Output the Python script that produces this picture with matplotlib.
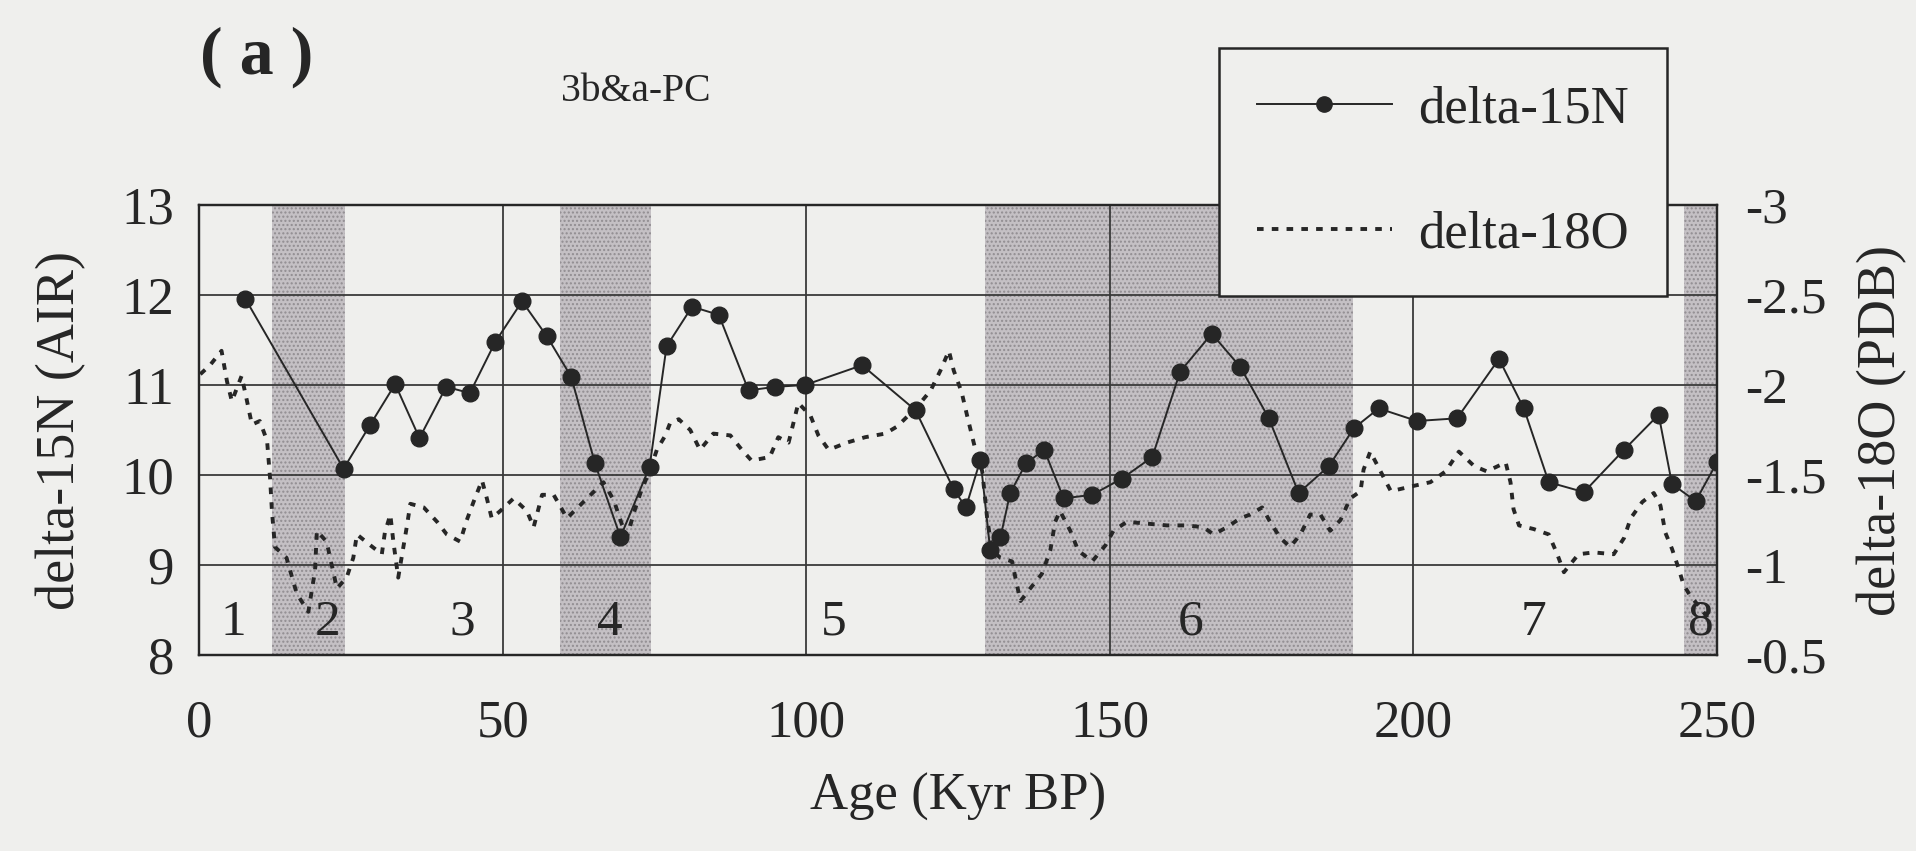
import matplotlib
matplotlib.use("Agg")
import matplotlib.pyplot as plt
from matplotlib.lines import Line2D

plt.rcParams["font.family"] = ["Liberation Serif", "DejaVu Serif"]

# delta-15N (AIR), one value per sample depth
age_n15 = [7.6, 23.8, 28.2, 32.3, 36.3, 40.7, 44.6, 48.8, 53.2, 57.3, 61.3,
           65.2, 69.4, 74.2, 77.0, 81.2, 85.6, 90.5, 94.9, 99.8, 109.2, 118.0,
           124.3, 126.3, 128.7, 130.3, 132.0, 133.6, 136.2, 139.2, 142.4, 147.1,
           152.0, 157.0, 161.6, 166.8, 171.5, 176.2, 181.1, 186.1, 190.2, 194.3,
           200.6, 207.2, 214.1, 218.2, 222.3, 228.1, 234.7, 240.4, 242.6, 246.5,
           250.0]
n15 = [11.96, 10.07, 10.56, 11.01, 10.41, 10.98, 10.91, 11.48, 11.93, 11.54, 11.09,
       10.13, 9.31, 10.09, 11.43, 11.87, 11.78, 10.94, 10.98, 11.00, 11.22, 10.72,
       9.84, 9.64, 10.17, 9.17, 9.31, 9.80, 10.13, 10.28, 9.74, 9.78,
       9.96, 10.20, 11.15, 11.57, 11.20, 10.63, 9.80, 10.10, 10.52, 10.74,
       10.60, 10.63, 11.29, 10.74, 9.92, 9.81, 10.28, 10.67, 9.90, 9.71,
       10.14]

# delta-18O (PDB) benthic record
age_o18 = [0.2, 1.8, 3.7, 4.6, 5.4, 7.0, 7.9, 8.7, 10.0, 11.2, 11.7, 12.0, 12.5,
           14.4, 16.1, 18.0, 19.1, 19.4, 21.0, 22.7, 24.3, 25.4, 26.0, 28.2, 30.1,
           30.6, 31.5, 32.0, 32.8, 34.2, 34.8, 37.0, 39.2, 40.8, 43.0, 44.1, 45.2,
           46.6, 47.4, 48.2, 49.6, 51.8, 54.0, 55.1, 56.5, 58.4, 60.6,
           63.3, 66.6, 68.3, 69.6, 70.5, 71.8, 72.9, 74.3, 75.4, 76.8, 77.6, 79.0,
           80.9, 82.5, 84.7, 87.5, 89.4, 91.0, 94.0, 95.4, 97.1, 97.9, 98.7, 100.7,
           102.0, 103.7, 106.7, 109.7, 113.0, 115.0, 118.3, 120.5, 122.1, 123.5,
           124.3, 125.6, 126.5,
           127.8, 129.0, 129.8, 130.6, 132.0, 133.9, 134.7, 135.3, 136.9, 138.8,
           140.2, 141.0, 141.8, 143.5, 144.8, 147.1, 149.3, 150.6, 152.8, 156.1,
           159.4, 162.7, 165.4, 167.1, 169.3, 171.5, 173.1, 175.1, 176.4, 178.1,
           179.7, 181.4, 183.0, 184.7, 186.3, 188.0, 189.6,
           191.3, 191.8, 192.9, 194.6, 196.3, 200.1, 202.8, 205.3, 207.5, 210.0,
           212.1, 215.2, 216.0, 216.5, 217.4, 219.8, 222.3, 223.7, 224.8, 227.2,
           229.7, 233.0, 234.7, 235.8, 237.7, 239.6, 240.7, 241.5, 242.6, 243.7,
           244.5, 245.6, 247.3, 248.9]
o18 = [-2.06, -2.11, -2.19, -2.02, -1.91, -2.05, -1.91, -1.78, -1.80, -1.69, -1.48, -1.30, -1.10,
       -1.04, -0.84, -0.74, -0.97, -1.19, -1.13, -0.87, -0.93, -1.04, -1.17, -1.11, -1.06,
       -1.18, -1.28, -1.13, -0.93, -1.21, -1.34, -1.32, -1.24, -1.17, -1.13, -1.25, -1.35,
       -1.47, -1.37, -1.26, -1.30, -1.37, -1.30, -1.21, -1.39, -1.39, -1.26,
       -1.35, -1.46, -1.36, -1.23, -1.16, -1.31, -1.42, -1.53, -1.64, -1.72, -1.79, -1.81,
       -1.75, -1.64, -1.73, -1.72, -1.64, -1.58, -1.60, -1.71, -1.68, -1.79, -1.90, -1.83,
       -1.72, -1.64, -1.68, -1.71, -1.73, -1.77, -1.88, -1.97, -2.08, -2.19,
       -2.08, -1.96, -1.83,
       -1.65, -1.52, -1.26, -1.08, -1.04, -1.02, -0.89, -0.80, -0.87, -0.95,
       -1.08, -1.24, -1.30, -1.19, -1.08, -1.02, -1.11, -1.19, -1.24, -1.23,
       -1.22, -1.22, -1.21, -1.17, -1.21, -1.26, -1.28, -1.32, -1.24, -1.15,
       -1.10, -1.17, -1.28, -1.28, -1.19, -1.25, -1.37,
       -1.41, -1.53, -1.63, -1.52, -1.41, -1.44, -1.46, -1.52, -1.63, -1.55,
       -1.52, -1.57, -1.46, -1.31, -1.22, -1.20, -1.17, -1.06, -0.96, -1.06,
       -1.07, -1.06, -1.15, -1.26, -1.35, -1.40, -1.33, -1.18, -1.09, -0.98,
       -0.89, -0.83, -0.76, -0.69]

# glacial stages (shaded) and stage labels
glacial_start = [12, 59.5, 129.5, 244.5]
glacial_end = [24, 74.5, 190, 250.5]
stage_labels = ["1", "2", "3", "4", "5", "6", "7", "8"]
stage_pos = [5.6, 21.1, 43.3, 67.7, 104.5, 163.3, 219.8, 247.3]

BG = "#efefed"
INK = "#262626"

fig = plt.figure(figsize=(19.16, 8.51), dpi=100, facecolor=BG)
ax = fig.add_axes([0.1039, 0.2303, 0.7922, 0.5288])
ax.set_facecolor(BG)

for s, e in zip(glacial_start, glacial_end):
    ax.axvspan(s, e, facecolor="#c4c0c4", edgecolor="#918d91", hatch="....",
               linewidth=0, zorder=0)

ax.set_xlim(0, 250)
ax.set_ylim(8, 13)
ax.set_xticks([0, 50, 100, 150, 200, 250])
ax.set_yticks([8, 9, 10, 11, 12, 13])
ax.grid(True, color="#3a3a3a", linewidth=1.3, zorder=1)
ax.set_axisbelow(True)
ax.tick_params(axis="both", length=0, labelsize=38, colors=INK)
ax.tick_params(axis="x", pad=32)
ax.tick_params(axis="y", pad=18)
for sp in ax.spines.values():
    sp.set_linewidth(1.6)
    sp.set_color(INK)

for lbl, xp in zip(stage_labels, stage_pos):
    ax.text(xp, 8.36, lbl, ha="center", va="center", fontsize=37, color=INK, zorder=3)

ax.set_xlabel("Age (Kyr BP)", fontsize=38, color=INK, labelpad=18)
ax.set_ylabel("delta-15N (AIR)", fontsize=39, color=INK, labelpad=25)

ax2 = ax.twinx()
ax2.set_ylim(-0.5, -3)
o18_ticks = [-3, -2.5, -2, -1.5, -1, -0.5]
ax2.set_yticks(o18_ticks)
ax2.set_yticklabels(["-3", "-2.5", "-2", "-1.5", "-1", "-0.5"])
ax2.tick_params(axis="y", length=0, labelsize=37, colors=INK, pad=20)
for sp in ax2.spines.values():
    sp.set_linewidth(1.6)
    sp.set_color(INK)
ax2.set_ylabel("delta-18O (PDB)", fontsize=39, color=INK, labelpad=22)

l18, = ax2.plot(age_o18, o18, color=INK, linewidth=2.8, linestyle=(0, (1.7, 2.1)),
                zorder=2)
# delta-15N drawn on the top axes but in left-axis data units
l15, = ax2.plot(age_n15, n15, color=INK, linewidth=1.4, marker="o", markersize=12,
                transform=ax.transData, zorder=3)

leg = ax2.legend([Line2D([], [], color=INK, linewidth=1.4, marker="o", markersize=11),
                  Line2D([], [], color=INK, linewidth=2.8, linestyle=(0, (1.7, 2.1)))],
                 ["delta-15N", "delta-18O"],
                 loc="upper left", bbox_to_anchor=(0.672, 1.349), borderaxespad=0,
                 fontsize=38, handlelength=2.55, handletextpad=0.5, labelspacing=1.45,
                 fancybox=False, framealpha=1, facecolor=BG, edgecolor=INK,
                 borderpad=0.72)
leg.get_frame().set_linewidth(1.8)
leg.set_zorder(10)
for t in leg.get_texts():
    t.set_color(INK)

fig.text(0.134, 0.933, "( a )", fontsize=49, fontweight="bold", color=INK,
         ha="center", va="center")
fig.text(0.332, 0.892, "3b&a-PC", fontsize=28.5, color=INK, ha="center", va="center")

fig.savefig("out.png", dpi=100, facecolor=BG)
